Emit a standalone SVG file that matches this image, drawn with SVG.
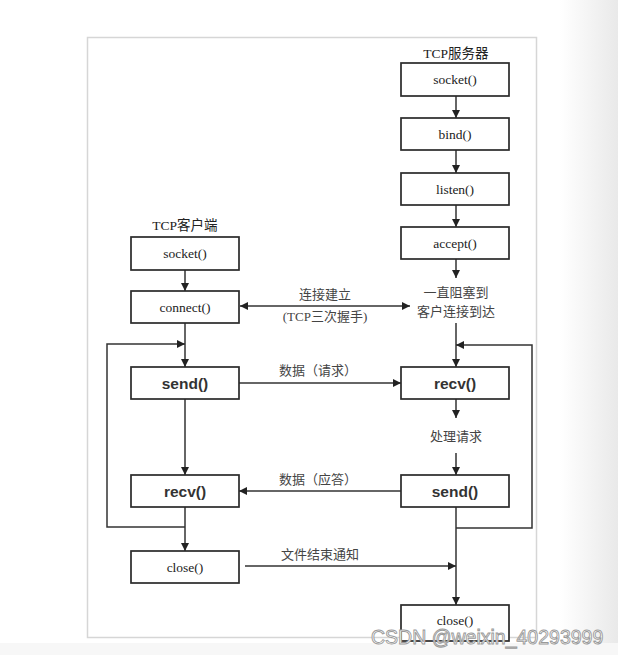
<svg xmlns="http://www.w3.org/2000/svg" width="618" height="655" viewBox="0 0 618 655">
<defs>
<linearGradient id="edge" x1="0" y1="0" x2="1" y2="0">
<stop offset="0" stop-color="#ffffff"/>
<stop offset="1" stop-color="#e9e9e9"/>
</linearGradient>
<marker id="ah" viewBox="0 0 10 10" refX="10" refY="5" markerWidth="8" markerHeight="8" markerUnits="userSpaceOnUse" orient="auto-start-reverse">
<path d="M0,0 L10,5 L0,10 z" fill="#222"/>
</marker>
<style>
.box{fill:#fff;stroke:#2a2a2a;stroke-width:1.7}
.ln{fill:none;stroke:#333;stroke-width:1.5}
.t{font-family:"Liberation Serif","Noto Sans CJK SC",serif;font-size:13.5px;fill:#222;text-anchor:middle}
.c{font-family:"Liberation Serif","Noto Sans CJK SC",serif;font-size:13px;fill:#444;text-anchor:middle}
.b{font-family:"Liberation Sans",Arial,sans-serif;font-size:15.5px;font-weight:bold;fill:#333;text-anchor:middle;stroke:#fff;stroke-width:3;paint-order:stroke;stroke-linejoin:round}
.wm{font-family:"Liberation Sans",Arial,sans-serif;font-size:19.5px;fill:#fff;stroke:#999;stroke-width:0.9}
</style>
</defs>
<rect x="0" y="0" width="618" height="655" fill="#fff"/>
<rect x="560" y="0" width="58" height="655" fill="url(#edge)"/>
<rect x="0" y="643" width="618" height="12" fill="#f7f7f7"/>
<rect x="87.5" y="37.5" width="449" height="600" fill="#fff" stroke="#d6d6d6" stroke-width="1.5"/>

<text class="t" x="456" y="58">TCP服务器</text>
<text class="t" x="185" y="230">TCP客户端</text>

<g id="connectors">
<line class="ln" x1="456" y1="96" x2="456" y2="118" marker-end="url(#ah)"/>
<line class="ln" x1="456" y1="150" x2="456" y2="173" marker-end="url(#ah)"/>
<line class="ln" x1="456" y1="205" x2="456" y2="227" marker-end="url(#ah)"/>
<line class="ln" x1="456" y1="259" x2="456" y2="278" marker-end="url(#ah)"/>
<line class="ln" x1="456" y1="323" x2="456" y2="367" marker-end="url(#ah)"/>
<line class="ln" x1="456" y1="399" x2="456" y2="418" marker-end="url(#ah)"/>
<line class="ln" x1="456" y1="453" x2="456" y2="475" marker-end="url(#ah)"/>
<line class="ln" x1="456" y1="507" x2="456" y2="605" marker-end="url(#ah)"/>
<polyline class="ln" points="456,528 532,528 532,345 456,345" marker-end="url(#ah)"/>
<line class="ln" x1="185" y1="270" x2="185" y2="291" marker-end="url(#ah)"/>
<line class="ln" x1="185" y1="323" x2="185" y2="367" marker-end="url(#ah)"/>
<line class="ln" x1="185" y1="399" x2="185" y2="475" marker-end="url(#ah)"/>
<line class="ln" x1="185" y1="507" x2="185" y2="551" marker-end="url(#ah)"/>
<polyline class="ln" points="185,527 107,527 107,344 185,344" marker-end="url(#ah)"/>
<line class="ln" x1="240" y1="306" x2="410" y2="306" marker-start="url(#ah)" marker-end="url(#ah)"/>
<line class="ln" x1="239" y1="383" x2="401" y2="383" marker-end="url(#ah)"/>
<line class="ln" x1="401" y1="491" x2="239" y2="491" marker-end="url(#ah)"/>
<line class="ln" x1="245" y1="566" x2="456" y2="566" marker-end="url(#ah)"/>
</g>

<g id="s-socket"><rect class="box" x="401" y="63" width="108" height="33"/><text class="t" x="455" y="84">socket()</text></g>
<g id="s-bind"><rect class="box" x="401" y="118" width="108" height="32"/><text class="t" x="455" y="139">bind()</text></g>
<g id="s-listen"><rect class="box" x="401" y="173" width="108" height="32"/><text class="t" x="455" y="194">listen()</text></g>
<g id="s-accept"><rect class="box" x="401" y="227" width="108" height="32"/><text class="t" x="455" y="248">accept()</text></g>
<g id="s-block"><text class="c" x="456" y="297">一直阻塞到</text><text class="c" x="456" y="316">客户连接到达</text></g>
<g id="s-recv"><rect class="box" x="401" y="367" width="108" height="32"/><text class="b" x="455" y="389">recv()</text></g>
<g id="s-proc"><text class="c" x="456" y="441">处理请求</text></g>
<g id="s-send"><rect class="box" x="401" y="475" width="108" height="32"/><text class="b" x="455" y="497">send()</text></g>
<g id="s-close"><rect class="box" x="401" y="605" width="108" height="36"/><text class="t" x="455" y="625">close()</text></g>

<g id="c-socket"><rect class="box" x="131" y="237" width="108" height="33"/><text class="t" x="185" y="258">socket()</text></g>
<g id="c-connect"><rect class="box" x="131" y="291" width="108" height="32"/><text class="t" x="185" y="312">connect()</text></g>
<g id="c-send"><rect class="box" x="131" y="367" width="108" height="32"/><text class="b" x="185" y="389">send()</text></g>
<g id="c-recv"><rect class="box" x="131" y="475" width="108" height="32"/><text class="b" x="185" y="497">recv()</text></g>
<g id="c-close"><rect class="box" x="131" y="551" width="108" height="32"/><text class="t" x="185" y="572">close()</text></g>

<g id="labels">
<text class="c" x="325" y="299">连接建立</text>
<text class="c" x="325" y="321">(TCP三次握手)</text>
<text class="c" x="318" y="375">数据（请求）</text>
<text class="c" x="318" y="484">数据（应答）</text>
<text class="c" x="320" y="559">文件结束通知</text>
</g>
<text class="wm" x="371" y="644">CSDN @weixin_40293999</text>
</svg>
